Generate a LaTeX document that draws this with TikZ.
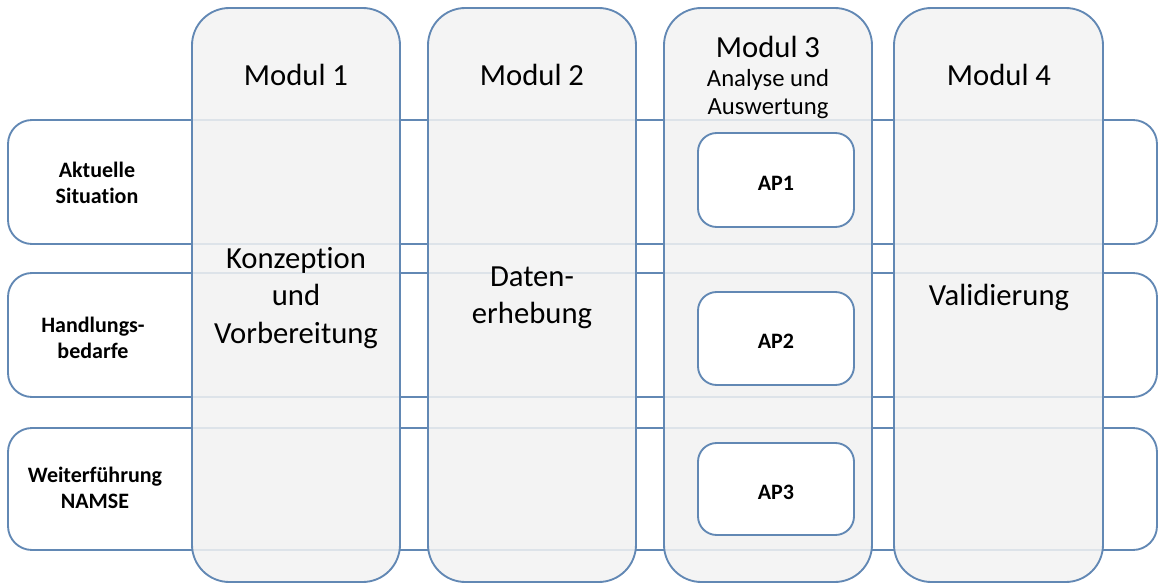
\documentclass[tikz,border=0pt]{standalone}
\usepackage{fontspec}
\setmainfont{Carlito}[Ligatures=NoCommon]
\usetikzlibrary{positioning}
\definecolor{rahmen}{RGB}{98,136,180}
\definecolor{modulgrau}{RGB}{242,242,242}
\tikzset{
  zeile/.style={draw=rahmen, line width=1.4pt, fill=white, rounded corners=18},
  modul/.style={draw=rahmen, line width=1.4pt, fill=modulgrau, fill opacity=0.86, rounded corners=28},
  apbox/.style={draw=rahmen, line width=1.4pt, fill=white, rounded corners=14},
  titel/.style={inner sep=0.75pt, align=center, font=\fontsize{23}{28}\selectfont},
  untertitel/.style={inner sep=0.75pt, align=center, font=\fontsize{18.5}{21.5}\selectfont},
  zeilentext/.style={inner sep=0.75pt, align=center, font=\bfseries\fontsize{16.5}{19}\selectfont},
}
\begin{document}
\begin{tikzpicture}[x=0.75pt,y=0.75pt,yscale=-1,xscale=1]
  \useasboundingbox (0,0) rectangle (1158,585);
  %Shape: Rows
  \draw [zeile] (8,120) rectangle (1157,244);
  \draw [zeile] (8,273) rectangle (1157,397);
  \draw [zeile] (8,428) rectangle (1157,550);
  %Shape: Columns
  \draw [modul] (192,8) rectangle (400,582);
  \draw [modul] (428,8) rectangle (636,582);
  \draw [modul] (664,8) rectangle (872,582);
  \draw [modul] (894,8) rectangle (1103,582);
  %Shape: AP boxes
  \draw [apbox] (698,133) rectangle (854,227);
  \draw [apbox] (698,292) rectangle (854,385);
  \draw [apbox] (698,443) rectangle (854,535);

  % Text Node
  \node [titel] (m1) at (296,75) {Modul 1};
  % Text Node
  \node [titel] (m2) at (532,75) {Modul 2};
  % Text Node
  \node [titel] (m3) at (768,47) {Modul 3};
  % Text Node
  \node [untertitel] (m3sub) at (768,94) {Analyse und\\Auswertung};
  % Text Node
  \node [titel] (m4) at (999,75) {Modul 4};
  % Text Node
  \node [titel] (konz) at (296,298) {Konzeption\\und\\Vorbereitung};
  % Text Node
  \node [titel] (daten) at (532,298) {Daten-\\erhebung};
  % Text Node
  \node [titel] (valid) at (999,297) {Validierung};
  % Text Node
  \node [zeilentext] (ap1) at (776,183) {AP1};
  % Text Node
  \node [zeilentext] (ap2) at (776,341) {AP2};
  % Text Node
  \node [zeilentext] (ap3) at (776,492) {AP3};
  % Text Node
  \node [zeilentext] (akt) at (97,183) {Aktuelle\\Situation};
  % Text Node
  \node [zeilentext] (hand) at (93,338) {Handlungs-\\bedarfe};
  % Text Node
  \node [zeilentext] (weit) at (95,488) {Weiterführung\\NAMSE};
\end{tikzpicture}
\end{document}
